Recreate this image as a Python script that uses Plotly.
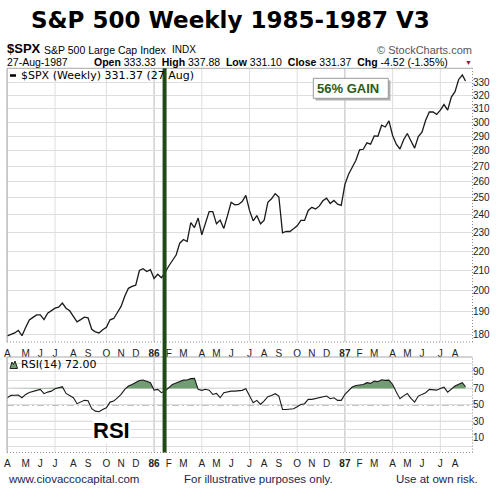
import numpy as np
import pandas as pd
import plotly.graph_objects as go

# ---------------- data ----------------
start_date = "1985-04-05"
last_date = "1987-08-27"

spx_close = [
    179.3, 180.0, 180.6, 181.7, 179.4, 183.0, 186.3, 187.5, 188.6, 188.6,
    186.5, 189.4, 190.6, 191.7, 192.2, 194.1, 191.7, 190.5, 188.0, 185.5,
    186.5, 187.6, 187.3, 182.2, 181.1, 180.6, 182.0, 183.1, 186.4, 187.0,
    189.7, 192.5, 197.3, 201.1, 202.0, 202.6, 209.9, 210.8, 209.4, 210.3,
    205.9, 208.0, 206.3, 208.9, 212.2, 214.8, 217.9, 224.2, 226.2, 225.1,
    235.6, 232.8, 238.2, 228.8, 235.1, 241.9, 241.9, 234.9, 237.0, 232.3,
    239.6, 247.4, 245.9, 246.1, 247.8, 251.6, 242.6, 236.6, 239.6, 234.9,
    237.0, 247.4, 249.5, 252.6, 250.6, 229.8, 230.6, 230.6, 232.1, 233.8,
    236.8, 236.8, 242.6, 244.4, 243.4, 245.1, 248.3, 249.9, 246.7, 248.5,
    246.3, 245.6, 258.3, 264.7, 269.2, 273.8, 280.7, 281.1, 285.5, 284.6,
    290.3, 290.1, 297.9, 296.6, 301.0, 290.6, 284.6, 281.3, 287.6, 292.0,
    286.8, 281.9, 289.9, 292.9, 301.5, 307.5, 307.5, 305.8, 308.9, 313.1,
    308.9, 318.8, 323.0, 332.6, 336.2, 331.37,
]

rsi14 = [
    58.7, 61.5, 61.7, 61.9, 58.7, 62.7, 65.0, 66.7, 67.6, 68.8,
    63.6, 65.5, 66.7, 69.6, 70.8, 72.1, 63.9, 61.0, 58.7, 51.5,
    53.4, 55.5, 55.0, 45.4, 42.5, 41.8, 44.5, 46.6, 53.4, 54.6,
    58.5, 62.7, 68.8, 72.8, 74.8, 76.9, 79.5, 80.1, 78.8, 76.9,
    68.0, 68.8, 64.8, 67.0, 70.8, 74.8, 76.5, 78.0, 80.0, 80.1,
    81.8, 82.1, 68.8, 67.6, 69.0, 67.9, 62.7, 63.9, 58.7, 64.8,
    66.0, 66.7, 66.7, 67.0, 67.6, 69.6, 60.7, 52.7, 55.5, 50.6,
    55.0, 59.9, 61.5, 63.6, 60.7, 44.5, 44.5, 44.5, 45.4, 47.8,
    50.6, 51.5, 56.7, 56.7, 57.5, 58.5, 59.9, 60.7, 57.5, 58.7,
    55.5, 55.5, 62.7, 66.7, 71.6, 73.6, 74.2, 74.8, 76.9, 76.1,
    78.8, 78.1, 80.5, 79.7, 80.0, 74.8, 65.5, 57.5, 61.0, 63.9,
    58.0, 53.4, 60.7, 62.5, 64.8, 68.8, 68.5, 67.9, 70.0, 71.6,
    65.5, 69.6, 72.8, 75.0, 76.9, 72.0,
]

price_ticks = [180, 190, 200, 210, 220, 230, 240, 250, 260, 270, 280, 290, 300, 310, 320, 330]
rsi_ticks = [10, 30, 50, 70, 90]
rsi_minor = [0, 20, 40, 60, 80, 100]
rsi_levels = [30, 70]
rsi_mid = 50
month_labels = ["A", "M", "J", "J", "A", "S", "O", "N", "D",
                "<b>86</b>", "F", "M", "A", "M", "J", "J", "A", "S", "O", "N", "D",
                "<b>87</b>", "F", "M", "A", "M", "J", "J", "A"]
signal_date = "1986-01-30"

# ---------------- derived ----------------
dates = pd.date_range(start_date, periods=len(spx_close), freq="7D")
dates = dates[:-1].append(pd.DatetimeIndex([last_date]))

months = pd.date_range("1985-04-01", "1987-08-01", freq="MS")
def first_full_week_friday(m):
    d = m + pd.Timedelta(days=4)
    return d + pd.Timedelta(days=(4 - d.weekday()) % 7)
month_marks = [first_full_week_friday(m) for m in months]
quarter_marks = [mm for m, mm in zip(months, month_marks) if m.month in (1, 4, 7, 10)]
year_marks = [mm for m, mm in zip(months, month_marks) if m.month == 1]

tnum = dates.asi8.astype(float)
fx, fy = [], []
r = np.array(rsi14)
lvl = 70.0
for i in range(len(r)):
    if i > 0 and (r[i - 1] - lvl) * (r[i] - lvl) < 0:
        f = (lvl - r[i - 1]) / (r[i] - r[i - 1])
        fx.append(tnum[i - 1] + f * (tnum[i] - tnum[i - 1]))
        fy.append(lvl)
    fx.append(tnum[i])
    fy.append(max(r[i], lvl))
fx = pd.to_datetime(np.array(fx).astype("int64"))

W, H = 499, 498
ML, MR, MT, MB = 7, 27, 68, 46
PW, PH = W - ML - MR, H - MT - MB
def PX(px):
    return (px - ML) / PW
def PY(py):
    return (H - MB - py) / PH

price_dom = [PY(342), 1]
rsi_dom = [0, PY(357)]

x0 = pd.Timestamp(start_date) - pd.Timedelta(hours=14)
x1 = x0 + pd.Timedelta(days=887)

FONT = "Liberation Sans, Arial, sans-serif"
VFONT = "DejaVu Sans, Verdana, sans-serif"
GRID = "#dedede"
YEARGRID = "#b8b8b8"

fig = go.Figure()
fig.add_trace(go.Scatter(x=dates, y=spx_close, mode="lines",
                         line=dict(color="#1a1a1a", width=1.3),
                         xaxis="x", yaxis="y", hoverinfo="skip", showlegend=False))
fig.add_trace(go.Scatter(x=fx, y=[lvl] * len(fx), mode="lines", line=dict(width=0),
                         xaxis="x2", yaxis="y2", hoverinfo="skip", showlegend=False))
fig.add_trace(go.Scatter(x=fx, y=fy, mode="lines", line=dict(width=0),
                         fill="tonexty", fillcolor="#729c72",
                         xaxis="x2", yaxis="y2", hoverinfo="skip", showlegend=False))
fig.add_trace(go.Scatter(x=dates, y=rsi14, mode="lines",
                         line=dict(color="#1a1a1a", width=1.1),
                         xaxis="x2", yaxis="y2", hoverinfo="skip", showlegend=False))

shapes = []
for q in quarter_marks:
    c = YEARGRID if q in year_marks else GRID
    for xr, yr in (("x", "y domain"), ("x2", "y2 domain")):
        shapes.append(dict(type="line", xref=xr, yref=yr, x0=q, x1=q, y0=0, y1=1,
                           line=dict(color=c, width=1), layer="below"))
for lv in rsi_levels:
    shapes.append(dict(type="line", xref="x2 domain", yref="y2", x0=0, x1=1, y0=lv, y1=lv,
                       line=dict(color="#6a6a6a", width=1), layer="below"))
shapes.append(dict(type="line", xref="x2 domain", yref="y2", x0=0, x1=1, y0=rsi_mid, y1=rsi_mid,
                   line=dict(color="#6a6a6a", width=1, dash="7px,3px,2px,3px"), layer="below"))
for top, bot in ((68.3, 342), (357, 452.5)):
    shapes.append(dict(type="line", xref="paper", yref="paper", x0=PX(7), x1=PX(7),
                       y0=PY(bot), y1=PY(top), line=dict(color="#a8a8a8", width=1)))
    shapes.append(dict(type="line", xref="paper", yref="paper", x0=PX(7), x1=PX(472.5),
                       y0=PY(top), y1=PY(top), line=dict(color="#a8a8a8", width=1)))
    shapes.append(dict(type="line", xref="paper", yref="paper", x0=PX(472.5), x1=PX(472.5),
                       y0=PY(bot), y1=PY(top), line=dict(color="#8a8a8a", width=1, dash="1px,2px")))
    shapes.append(dict(type="line", xref="paper", yref="paper", x0=PX(7), x1=PX(472.5),
                       y0=PY(bot), y1=PY(bot), line=dict(color="#8a8a8a", width=1, dash="1px,2px")))
shapes.append(dict(type="line", xref="x", yref="paper", x0=signal_date, x1=signal_date,
                   y0=PY(452.5), y1=PY(68.3), line=dict(color="#1f4a16", width=4), layer="above"))
shapes.append(dict(type="rect", xref="paper", yref="paper", x0=PX(315.5), x1=PX(390.5),
                   y0=PY(100.5), y1=PY(80.5), fillcolor="#b0b0b0", line=dict(width=0)))
shapes.append(dict(type="rect", xref="paper", yref="paper", x0=PX(313.3), x1=PX(388.3),
                   y0=PY(98.3), y1=PY(78.3), fillcolor="white", line=dict(color="#999999", width=1)))
shapes.append(dict(type="line", xref="paper", yref="paper", x0=PX(10), x1=PX(16),
                   y0=PY(75.5), y1=PY(75.5), line=dict(color="black", width=2.5)))
pts = [(10, 368.5), (12, 362), (13.5, 364.5), (15, 361), (17.5, 368.5)]
path = "M " + " L ".join(f"{PX(a)},{PY(b)}" for a, b in pts) + " Z"
shapes.append(dict(type="path", xref="paper", yref="paper", path=path,
                   fillcolor="#729c72", line=dict(color="#222", width=1)))

ann = []
def text(px, py, s, size, color="black", family=FONT, anchor="left", bold=False, yanchor="middle"):
    ann.append(dict(xref="paper", yref="paper", x=PX(px), y=PY(py), text=s, showarrow=False,
                    xanchor=anchor, yanchor=yanchor,
                    font=dict(family=family, size=size, color=color,
                              weight="bold" if bold else "normal")))

text(230.5, 20.5, "S&P 500 Weekly 1985-1987 V3", 23, family="DejaVu Sans", anchor="center", bold=True)
text(5, 49, "$SPX", 13, bold=True)
text(42, 49.5, "S&P 500 Large Cap Index", 10.5)
text(170, 49.5, "INDX", 10)
text(474, 49.5, "© StockCharts.com", 11, color="#555555", anchor="right")
text(5, 62.5, "27-Aug-1987", 10.5)
text(92, 62.5, "<b>Open</b> 333.33  <b>High</b> 337.88  <b>Low</b> 331.10  <b>Close</b> 331.37  <b>Chg</b> -4.52 (-1.35%)",
     10.5)
text(468.5, 62.5, "▼", 7, color="#8b1838", anchor="center")
text(19, 75.5, "$SPX (Weekly) 331.37 (27 Aug)", 11, family=VFONT)
text(19, 364.5, "RSI(14) 72.00", 11, family=VFONT)
text(314.5, 88.3, "56% GAIN", 13, color="#2c5a1c", bold=True)
text(6, 479, "www.ciovaccocapital.com", 11.5, color="#1c2452")
text(182, 479, "For illustrative purposes only.", 11.5, color="#1c2452")
text(394, 479, "Use at own risk.", 11.5, color="#1c2452")
# big "RSI" label placed against the RSI scale, white backing hides the 30 line
ann.append(dict(xref="paper", yref="y2", x=PX(111.5), y=19, text="RSI", showarrow=False,
                xanchor="center", yanchor="middle", bgcolor="white", borderpad=0,
                font=dict(family=FONT, size=22, color="black", weight="bold")))

xcommon = dict(type="date", range=[x0, x1], tickvals=month_marks, ticktext=month_labels,
               showgrid=False, zeroline=False, showline=False, ticks="", ticklen=0,
               automargin=False, ticklabelstandoff=4,
               tickfont=dict(family=FONT, size=10, color="#222"))
ycommon = dict(side="right", showgrid=True, gridcolor=GRID, zeroline=False, showline=False,
               ticks="", ticklen=0, automargin=False,
               tickfont=dict(family=FONT, size=10, color="#222"))
fig.update_layout(
    width=W, height=H, margin=dict(l=ML, r=MR, t=MT, b=MB, autoexpand=False),
    paper_bgcolor="white", plot_bgcolor="white",
    xaxis=dict(domain=[0, 1], anchor="y", **xcommon),
    xaxis2=dict(domain=[0, 1], anchor="y2", matches="x", **xcommon),
    yaxis=dict(domain=price_dom, type="log", anchor="x",
               range=[np.log10(176.7), np.log10(341.9)], tickvals=price_ticks,
               ticktext=[str(v) for v in price_ticks], **ycommon),
    yaxis2=dict(domain=rsi_dom, anchor="x2", range=[-7, 108], tickvals=rsi_ticks,
                minor=dict(tickvals=rsi_minor, showgrid=True, gridcolor=GRID), **ycommon),
    shapes=shapes, annotations=ann, showlegend=False,
)

fig.write_html("out.html", config={"displayModeBar": False},
               post_script="document.body.style.margin='0px';")
